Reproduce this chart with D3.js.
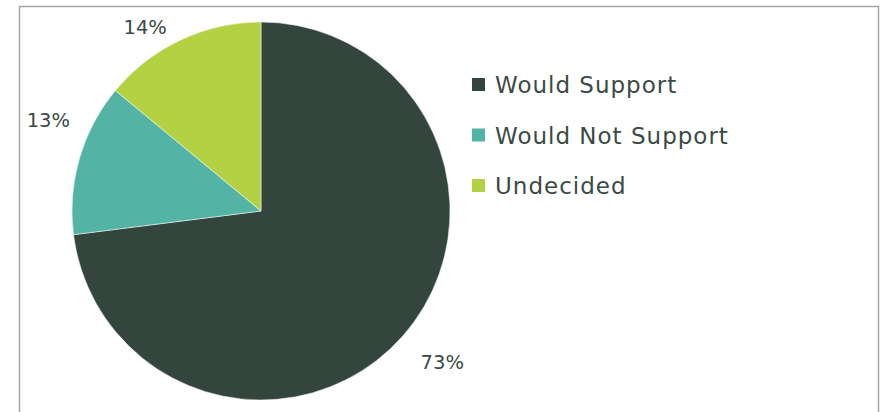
<!DOCTYPE html>
<html><head><meta charset="utf-8">
<script src="https://cdn.jsdelivr.net/npm/d3@7"></script>
<style>body{margin:0;background:#fff}svg{display:block}text{font-family:"DejaVu Sans",sans-serif;fill:#3b4a45}</style>
</head><body>
<svg id="c" width="881" height="412"></svg>
<script>
const categories = ["Would Support", "Would Not Support", "Undecided"];
const values = [73, 13, 14];
const labels = ["73%", "13%", "14%"];
const colors = ["#33453d", "#53b3a4", "#b2d243"];

const svg = d3.select("#c");
svg.append("rect").attr("x", 19.5).attr("y", 6.5).attr("width", 859).attr("height", 420)
  .attr("fill", "none").attr("stroke", "#a6a6a6").attr("stroke-width", 1.5);

const cx = 261, cy = 211, r = 189;
const pie = d3.pie().sort(null).value(d => d)(values);
const arc = d3.arc().innerRadius(0).outerRadius(r);
const g = svg.append("g").attr("transform", `translate(${cx},${cy})`);
g.selectAll("path").data(pie).join("path").attr("d", arc).attr("fill", (d, i) => colors[i])
  .attr("stroke", "#fff").attr("stroke-width", 0.5);

const labelArc = d3.arc().innerRadius(r + 22).outerRadius(r + 22);
const labelOffsets = [[23, 12], [-10, -32], [-26, 7]];
g.selectAll("text.lbl").data(pie).join("text").attr("class", "lbl")
  .attr("transform", (d, i) => { const c = labelArc.centroid(d); return `translate(${c[0] + labelOffsets[i][0]},${c[1] + labelOffsets[i][1]})`; })
  .attr("text-anchor", "middle").attr("dominant-baseline", "central")
  .attr("font-size", 19.5).text((d, i) => labels[i]);

const leg = svg.append("g").attr("transform", "translate(472,85)");
const rows = leg.selectAll("g").data(categories).join("g").attr("transform", (d, i) => `translate(0,${i * 50.5})`);
rows.append("rect").attr("x", 0).attr("y", -7).attr("width", 13).attr("height", 13).attr("fill", (d, i) => colors[i]);
rows.append("text").attr("x", 23).attr("y", 0).attr("dominant-baseline", "central")
  .attr("font-size", 23).attr("letter-spacing", 1).text(d => d);
</script>
</body></html>
